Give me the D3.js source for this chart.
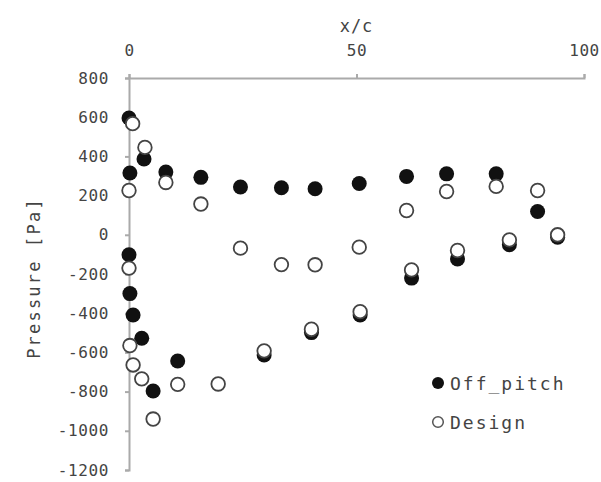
<!DOCTYPE html>
<html>
<head>
<meta charset="utf-8">
<script src="https://cdn.jsdelivr.net/npm/d3@7"></script>
<style>
  body { margin: 0; background: #fff; }
  text { font-family: "DejaVu Sans Mono", monospace; fill: #444; }
</style>
</head>
<body>
<div id="chart"></div>
<script>
// x/c positions and pressures
const offX = [0.0, 0.2, 3.3, 8.1, 15.8, 24.5, 33.5, 40.9, 50.6, 61.0, 69.8, 80.7, 89.8, 94.2,
              0.0, 0.2, 0.9, 2.8, 5.3, 10.7, 29.7, 40.1, 50.8, 62.1, 72.2, 83.6];
const offP = [596, 315, 387, 320, 293, 244, 240, 235, 262, 298, 311, 311, 119, -12,
              -102, -300, -409, -528, -797, -644, -613, -499, -409, -221, -123, -51];

const designX = [0.8, 0.0, 3.5, 8.1, 15.8, 24.5, 33.5, 40.9, 50.6, 61.0, 69.8, 80.7, 89.8, 94.2,
                 0.0, 0.2, 0.9, 2.8, 5.3, 10.7, 19.6, 29.7, 40.1, 50.8, 62.1, 72.2, 83.6];
const designP = [567, 226, 446, 267, 157, -68, -152, -153, -63, 124, 221, 247, 226, 0,
                 -170, -565, -664, -735, -940, -763, -761, -592, -482, -392, -179, -80, -26];

const xTicks = [0, 50, 100];
const yTicks = [-1200, -1000, -800, -600, -400, -200, 0, 200, 400, 600, 800];
const seriesNames = ["Off_pitch", "Design"];

const width = 601, height = 482;
const margin = {top: 78, right: 17, bottom: 12, left: 129};

const svg = d3.select("#chart").append("svg")
    .attr("width", width)
    .attr("height", height);

const x = d3.scaleLinear()
    .domain([0, 100])
    .range([margin.left, width - margin.right]);

const y = d3.scaleLinear()
    .domain([-1200, 800])
    .range([height - margin.bottom, margin.top]);

// plain labels, hyphen minus, no thousands separator
const plain = d => String(d);

// top x axis
const xAxis = svg.append("g")
    .attr("transform", "translate(0," + margin.top + ")")
    .call(d3.axisTop(x).tickValues(xTicks).tickFormat(plain)
        .tickSize(4).tickSizeOuter(4).tickPadding(18));
xAxis.selectAll("text").style("font-size", "16px").attr("letter-spacing", "0.6px");

// left y axis
const yAxis = svg.append("g")
    .attr("transform", "translate(" + margin.left + ",0)")
    .call(d3.axisLeft(y).tickValues(yTicks).tickFormat(plain)
        .tickSize(4).tickSizeOuter(4).tickPadding(16));
yAxis.selectAll("text").style("font-size", "16px").attr("letter-spacing", "0.6px");

svg.selectAll(".domain, .tick line")
    .attr("stroke", "#aaa")
    .attr("stroke-width", 2);

svg.append("text")
    .attr("x", x(50))
    .attr("y", 32)
    .attr("text-anchor", "middle")
    .style("font-size", "17px")
    .attr("letter-spacing", "1px")
    .text("x/c");

svg.append("text")
    .attr("transform", "translate(40," + 278 + ") rotate(-90)")
    .attr("text-anchor", "middle")
    .style("font-size", "17px")
    .attr("letter-spacing", "2.2px")
    .text("Pressure [Pa]");

// Off_pitch: filled
svg.append("g")
    .selectAll("circle")
    .data(d3.zip(offX, offP))
    .enter()
    .append("circle")
        .attr("cx", d => x(d[0]))
        .attr("cy", d => y(d[1]))
        .attr("r", 7.5)
        .style("fill", "#111");

// Design: open, drawn on top
svg.append("g")
    .selectAll("circle")
    .data(d3.zip(designX, designP))
    .enter()
    .append("circle")
        .attr("cx", d => x(d[0]))
        .attr("cy", d => y(d[1]))
        .attr("r", 6.8)
        .style("fill", "#fff")
        .style("stroke", "#444")
        .style("stroke-width", 1.8);

// legend
const legend = svg.append("g");
seriesNames.forEach((name, i) => {
    const ly = 383 + i * 39;
    legend.append("circle")
        .attr("cx", 438)
        .attr("cy", ly)
        .attr("r", i == 0 ? 6 : 5.3)
        .style("fill", i == 0 ? "#111" : "#fff")
        .style("stroke", i == 0 ? "none" : "#555")
        .style("stroke-width", 1.5);
    legend.append("text")
        .attr("x", 450)
        .attr("y", ly + 7)
        .style("font-size", "18px")
        .attr("letter-spacing", "2px")
        .text(name);
});
</script>
</body>
</html>
